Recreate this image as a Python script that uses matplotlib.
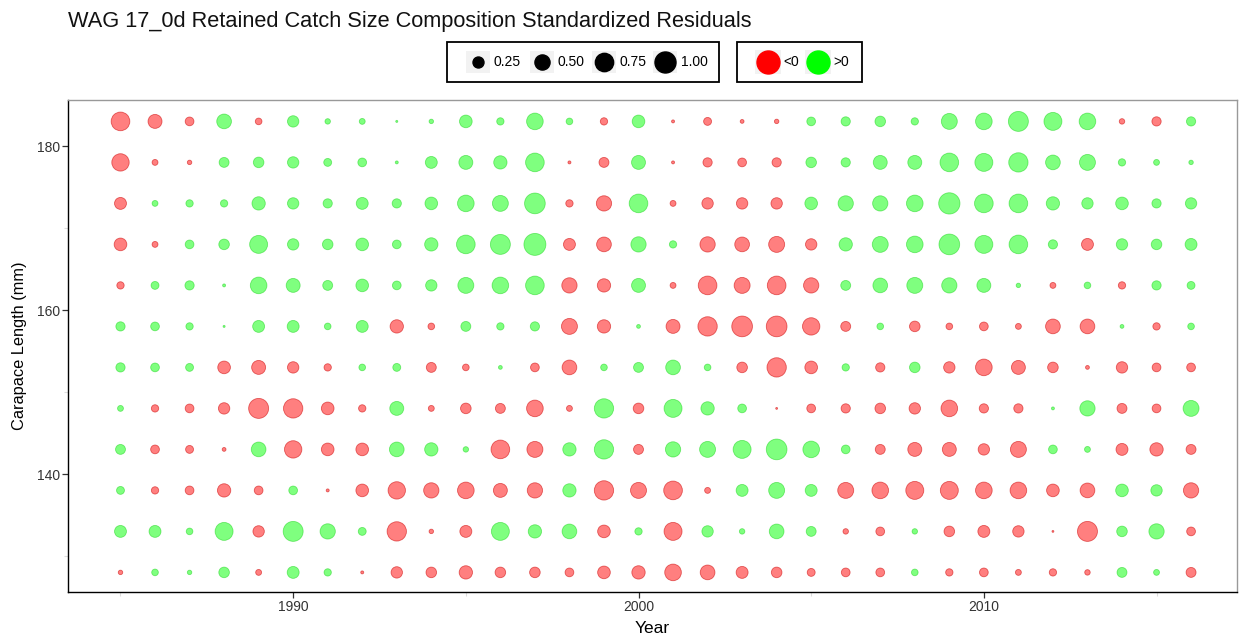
import numpy as np
import matplotlib
matplotlib.use("Agg")
import matplotlib.pyplot as plt
from matplotlib.patches import Rectangle

plt.rcParams['font.family'] = ['Liberation Sans', 'DejaVu Sans']

years = list(range(1985, 2017))
lengths = [183, 178, 173, 168, 163, 158, 153, 148, 143, 138, 133, 128]

# standardized residuals per carapace-length bin, 1985..2016
r183 = [-0.78, -0.42, -0.15, 0.47, -0.08, 0.27, 0.05, 0.06, 0.003, 0.03, 0.34, 0.10, 0.61, 0.08, -0.10, 0.34,
        -0.01, -0.12, -0.02, -0.03, 0.15, 0.17, 0.23, 0.10, 0.56, 0.61, 0.90, 0.72, 0.61, -0.05, -0.17, 0.17]
r178 = [-0.67, -0.06, -0.03, 0.20, 0.23, 0.27, 0.12, 0.15, 0.01, 0.30, 0.42, 0.38, 0.78, -0.01, -0.20, 0.42,
        -0.01, -0.17, -0.15, -0.17, 0.23, 0.17, 0.42, 0.42, 0.78, 0.72, 0.84, 0.47, 0.56, 0.10, 0.06, 0.03]
r173 = [-0.30, 0.06, 0.10, 0.10, 0.38, 0.27, 0.17, 0.30, 0.17, 0.34, 0.61, 0.56, 0.97, -0.10, -0.51, 0.78,
        -0.06, -0.27, -0.27, -0.27, 0.34, 0.51, 0.51, 0.61, 1.03, 0.78, 0.78, 0.38, 0.27, 0.34, 0.17, 0.27]
r168 = [-0.34, -0.06, 0.15, 0.23, 0.72, 0.27, 0.23, 0.34, 0.15, 0.38, 0.78, 0.90, 1.10, -0.30, -0.47, 0.51,
        0.10, -0.51, -0.47, -0.56, -0.27, 0.38, 0.56, 0.61, 0.97, 0.72, 0.78, 0.17, -0.30, 0.27, 0.23, 0.30]
r163 = [-0.10, 0.12, 0.17, 0.01, 0.61, 0.42, 0.20, 0.34, 0.15, 0.27, 0.56, 0.61, 0.78, -0.51, -0.38, 0.42,
        -0.06, -0.78, -0.56, -0.78, -0.51, 0.20, 0.47, 0.56, 0.51, 0.42, 0.03, -0.06, 0.08, -0.10, 0.17, 0.12]
r158 = [0.17, 0.15, 0.10, 0.003, 0.30, 0.30, 0.08, 0.30, -0.38, -0.08, 0.20, 0.10, 0.17, -0.56, -0.38, 0.02,
        -0.42, -0.84, -0.97, -0.97, -0.67, -0.20, 0.08, -0.23, -0.08, -0.15, -0.06, -0.47, -0.47, 0.02, -0.10, 0.08]
r153 = [0.17, 0.15, 0.12, -0.34, -0.42, -0.27, -0.10, 0.08, 0.12, -0.20, -0.08, 0.02, -0.15, -0.47, 0.08, 0.20,
        0.47, 0.08, -0.23, -0.84, -0.34, 0.10, -0.17, 0.23, -0.27, -0.61, -0.42, -0.23, -0.02, -0.27, -0.15, -0.15]
r148 = [0.06, -0.10, -0.15, -0.27, -0.90, -0.84, -0.34, -0.10, 0.42, -0.06, -0.23, -0.20, -0.61, -0.06, 0.84, -0.23,
        0.72, 0.38, 0.15, -0.002, -0.15, -0.17, -0.23, -0.27, -0.61, -0.17, -0.17, 0.01, 0.51, -0.20, -0.15, 0.56]
r143 = [0.20, -0.15, -0.12, -0.02, 0.47, -0.67, -0.34, -0.34, 0.47, 0.38, 0.05, -0.78, -0.56, 0.38, 0.84, -0.20,
        0.51, 0.56, 0.72, 0.97, 0.61, 0.15, -0.20, -0.42, -0.42, -0.27, -0.56, 0.15, 0.06, -0.30, -0.38, -0.20]
r138 = [0.12, -0.10, -0.15, -0.38, -0.15, 0.15, -0.01, -0.34, -0.67, -0.51, -0.61, -0.42, -0.51, 0.38, -0.84, -0.56,
        -0.78, -0.06, 0.30, 0.56, 0.30, -0.56, -0.61, -0.72, -0.72, -0.61, -0.61, -0.34, -0.47, 0.34, 0.27, -0.51]
r133 = [0.30, 0.30, 0.08, 0.72, -0.27, 0.90, 0.51, 0.12, -0.84, -0.03, -0.30, 0.72, 0.38, 0.47, -0.34, 0.10,
        -0.72, 0.27, 0.05, 0.47, 0.20, -0.05, -0.15, 0.05, -0.23, -0.30, -0.27, -0.002, -0.90, 0.23, 0.51, -0.15]
r128 = [-0.03, 0.08, 0.03, 0.23, -0.06, 0.30, 0.10, -0.01, -0.27, -0.23, -0.38, -0.23, -0.23, -0.15, -0.34, -0.38,
        -0.61, -0.47, -0.30, -0.23, -0.12, -0.15, -0.15, 0.08, -0.10, -0.15, -0.06, -0.10, -0.05, 0.20, 0.06, -0.20]

size_breaks = [0.25, 0.50, 0.75, 1.00]
size_labels = ["0.25", "0.50", "0.75", "1.00"]
sign_labels = ["<0", ">0"]

rows = [r183, r178, r173, r168, r163, r158, r153, r148, r143, r138, r133, r128]

W, H, DPI = 1239, 635, 100
PX2PT = 72.0 / DPI


def area(v):
    d_px = 1.0 + 20.0 * np.sqrt(np.abs(np.asarray(v, dtype=float)))
    return (d_px * PX2PT) ** 2


fig = plt.figure(figsize=(W / DPI, H / DPI), dpi=DPI)
ax = fig.add_axes([68 / W, 1 - 592 / H, (1237 - 68) / W, (592 - 100) / H])

X, Y = np.meshgrid(years, lengths)
R = np.array(rows)
x = X.ravel(); y = Y.ravel(); r = R.ravel()
neg = r < 0
pos = ~neg
ax.scatter(x[neg], y[neg], s=area(r[neg]), facecolor=(1, 0, 0, 0.5),
           edgecolor=(0.8, 0, 0, 0.55), linewidth=0.6, zorder=3)
ax.scatter(x[pos], y[pos], s=area(r[pos]), facecolor=(0, 1, 0, 0.5),
           edgecolor=(0, 0.8, 0, 0.45), linewidth=0.6, zorder=3)

ax.set_xlim(1983.48, 2017.33)
ax.set_ylim(125.61, 185.61)
ax.set_xticks([1990, 2000, 2010])
ax.set_yticks([140, 160, 180])
ax.set_xticks([1985, 1995, 2005, 2015], minor=True)
ax.set_yticks([130, 150, 170], minor=True)
ax.tick_params(axis='both', which='major', labelsize=10, length=4, width=0.9,
               color='#333333', labelcolor='#333333', pad=2)
ax.tick_params(axis='both', which='minor', length=3, width=0.8, color='#DDDDDD')
for side in ['left', 'bottom']:
    ax.spines[side].set_color('black')
    ax.spines[side].set_linewidth(1.0)
for side in ['top', 'right']:
    ax.spines[side].set_color('#999999')
    ax.spines[side].set_linewidth(1.0)
ax.set_xlabel("Year", fontsize=12.5, labelpad=5)
ax.set_ylabel("Carapace Length (mm)", fontsize=11.8, labelpad=7)

fig.text(68 / W, 1 - 21 / H, "WAG 17_0d Retained Catch Size Composition Standardized Residuals",
         fontsize=15.7, ha='left', va='center', color='#111111')

# legends drawn in pixel coordinates
lg = fig.add_axes([0, 0, 1, 1], zorder=5)
lg.set_xlim(0, W); lg.set_ylim(H, 0); lg.axis('off')
lg.patch.set_alpha(0)
lg.add_patch(Rectangle((447, 42), 272, 40, facecolor='white', edgecolor='black', linewidth=1.3))
lg.add_patch(Rectangle((737, 42), 125, 40, facecolor='white', edgecolor='black', linewidth=1.3))
yc = 62
xs_dots = [478, 542, 604, 665]
for xd, val, lab in zip(xs_dots, size_breaks, size_labels):
    lg.add_patch(Rectangle((xd - 12, yc - 11), 24, 22, facecolor='#F2F2F2', edgecolor='none'))
    lg.scatter([xd], [yc], s=area([val]), color='black', zorder=6)
    lg.text(xd + 16, yc, lab, fontsize=10, ha='left', va='center')
sign_x = [768, 818]
sign_c = ['#FF0000', '#00FF00']
for xd, c, lab in zip(sign_x, sign_c, sign_labels):
    lg.add_patch(Rectangle((xd - 13, yc - 12), 26, 24, facecolor='#F2F2F2', edgecolor='none'))
    lg.scatter([xd], [yc], s=(23 * PX2PT) ** 2, color=c, zorder=6)
    lg.text(xd + 15, yc, lab, fontsize=10, ha='left', va='center')

fig.savefig("out.png", dpi=DPI)
